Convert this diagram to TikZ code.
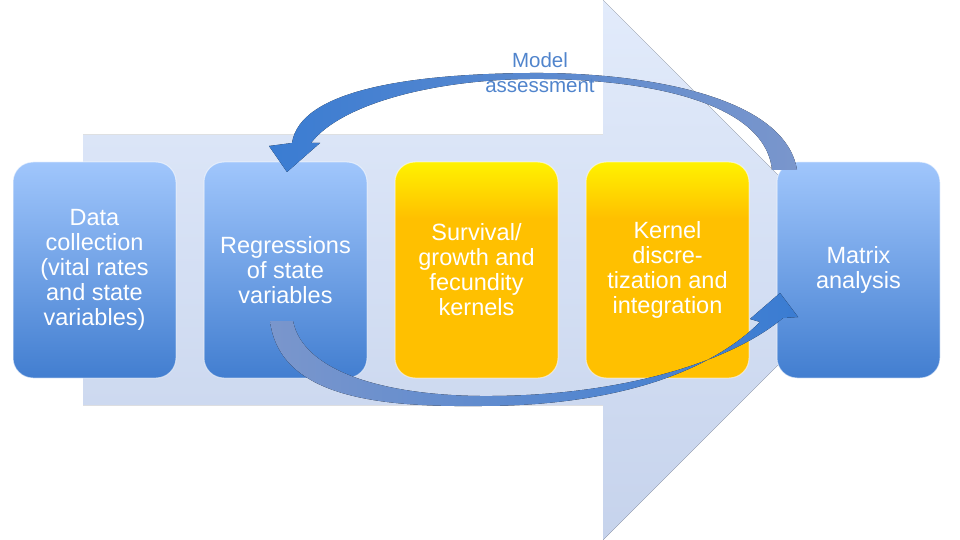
\documentclass[tikz,border=0pt]{standalone}
\usepackage{fontspec}
\setmainfont{Liberation Sans}
\usetikzlibrary{positioning}
\definecolor{bgtop}{RGB}{226,235,251}
\definecolor{bgbot}{RGB}{198,211,236}
\definecolor{bluetop}{RGB}{160,198,252}
\definecolor{bluebot}{RGB}{66,126,208}
\definecolor{yeltop}{RGB}{255,242,0}
\definecolor{yelbot}{RGB}{255,192,0}
\definecolor{arrowdark}{RGB}{58,124,210}
\definecolor{arrowgrey}{RGB}{122,150,204}
\definecolor{labelblue}{RGB}{80,132,204}
\pgfdeclareverticalshading{yelshade}{100bp}{color(0bp)=(yelbot); color(25bp)=(yelbot);
  color(62bp)=(yelbot); color(75bp)=(yeltop); color(100bp)=(yeltop)}
\tikzset{
  stagebox/.style={minimum width=163pt,minimum height=216pt,rounded corners=20pt,
    inner sep=0pt,align=center,text=white,font=\fontsize{23.5}{25}\selectfont,
    draw=white,draw opacity=0.55,line width=1pt},
  bluebox/.style={stagebox,top color=bluetop,bottom color=bluebot},
  yellowbox/.style={stagebox,shade,shading=yelshade},
}
\begin{document}
\begin{tikzpicture}[x=1pt,y=-1pt,node distance=191pt]
\useasboundingbox (0,0) rectangle (960,540);
% big arrow behind the stages
\fill[top color=bgtop,bottom color=bgbot] (83,135) -- (603,135) -- (603,0) -- (873,270)
  -- (603,540) -- (603,405) -- (83,405) -- cycle;
% stages
\node[bluebox](NB1) at (94.5,270){Data\\collection\\(vital rates\\and state\\variables)};
\node[bluebox,right of = NB1](NB2){Regressions\\of state\\variables};
\node[yellowbox,right of = NB2](NB3){Survival/\\growth and\\fecundity\\kernels};
\node[yellowbox,right of = NB3](NB4){Kernel\\discre-\\tization and\\integration};
\node[bluebox,right of = NB4](NB5){Matrix\\analysis};
% model assessment arrow (back to the regressions)
\fill[left color=arrowdark,right color=arrowgrey]
  (797,170) .. controls (785,95) and (640,72) .. (530,73)
  .. controls (410,74) and (300,90) .. (292,143)
  -- (269,146) -- (287,172) -- (320,143) -- (311,143)
  .. controls (340,105) and (430,80) .. (530,79)
  .. controls (640,78) and (765,100) .. (772,170) -- cycle;
% arrow from the regressions to the matrix
\fill[left color=arrowgrey,right color=arrowdark]
  (270,321) .. controls (280,398) and (380,407) .. (480,406)
  .. controls (620,406) and (712,370) .. (760,322)
  -- (750,319) -- (780,293) -- (798,317) -- (783,318)
  .. controls (728,364) and (615,397) .. (480,396)
  .. controls (385,395) and (303,372) .. (293,321) -- cycle;
\node[text=labelblue,align=center,font=\fontsize{20.5}{25}\selectfont](NM) at (540,73){Model\\assessment};
\end{tikzpicture}
\end{document}
